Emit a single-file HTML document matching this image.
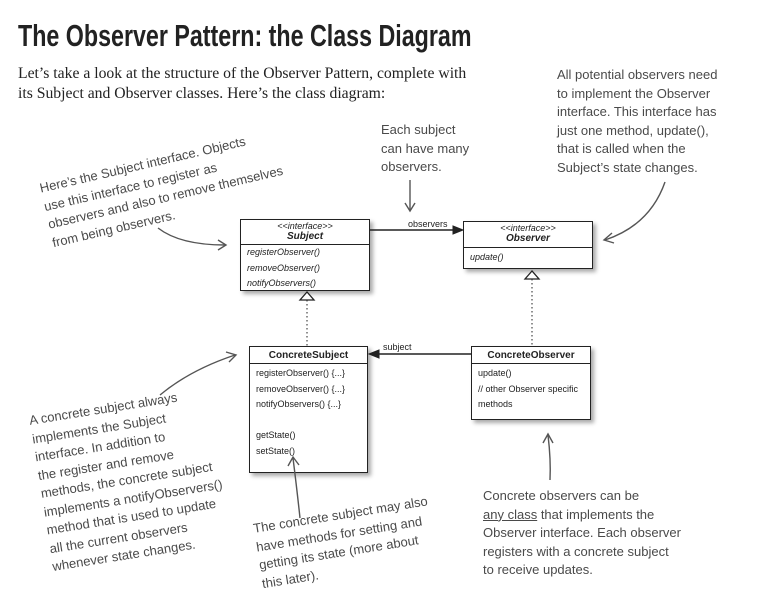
<!DOCTYPE html>
<html><head><meta charset="utf-8"><style>
body{margin:0;width:758px;height:590px;background:#fff;position:relative;overflow:hidden;font-family:"Liberation Sans",sans-serif}
.t{position:absolute;left:18px;top:18px;font:bold 31px "Liberation Sans",sans-serif;color:#222;letter-spacing:0px;transform:scaleX(0.75);transform-origin:left;white-space:nowrap}
.intro{position:absolute;left:18px;top:64px;font:15.7px/20px "Liberation Serif",serif;color:#222}
.h{position:absolute;font:13px/18.5px "Liberation Sans",sans-serif;color:#4a4a4a;white-space:pre;transform-origin:left top}
.box{position:absolute;border:1.5px solid #222;background:#fff;box-shadow:3px 3px 4px #aaa;font-size:9px;color:#222}
.hd{border-bottom:1.5px solid #222;text-align:center}
.m{padding-left:6px;line-height:15.5px}
i{font-style:italic}
</style></head><body>
<div class="t">The Observer Pattern: the Class Diagram</div>
<div class="intro">Let’s take a look at the structure of the Observer Pattern, complete with<br>its Subject and Observer classes. Here’s the class diagram:</div>

<div class="h" style="left:557px;top:66px">All potential observers need
to implement the Observer
interface. This interface has
just one method, update(),
that is called when the
Subject’s state changes.</div>
<div class="h" style="left:381px;top:121px">Each subject
can have many
observers.</div>
<div class="h" style="left:38px;top:180px;transform:rotate(-13deg)">Here’s the Subject interface. Objects
use this interface to register as
observers and also to remove themselves
from being observers.</div>
<div class="h" style="left:28px;top:412px;transform:rotate(-9deg)">A concrete subject always
implements the Subject
interface. In addition to
the register and remove
methods, the concrete subject
implements a notifyObservers()
method that is used to update
all the current observers
whenever state changes.</div>
<div class="h" style="left:252px;top:520px;transform:rotate(-9deg)">The concrete subject may also
have methods for setting and
getting its state (more about
this later).</div>
<div class="h" style="left:483px;top:487px">Concrete observers can be
<u>any class</u> that implements the
Observer interface. Each observer
registers with a concrete subject
to receive updates.</div>

<div class="box" style="left:240px;top:219px;width:128px;height:70px">
<div class="hd" style="height:23px;line-height:10px;padding-top:1px"><i>&lt;&lt;interface&gt;&gt;</i><br><b><i style="font-size:10px">Subject</i></b></div>
<div class="m"><i>registerObserver()<br>removeObserver()<br>notifyObservers()</i></div></div>
<div class="box" style="left:463px;top:221px;width:128px;height:46px">
<div class="hd" style="height:24px;line-height:10px;padding-top:1px"><i>&lt;&lt;interface&gt;&gt;</i><br><b><i style="font-size:10px">Observer</i></b></div>
<div class="m" style="padding-top:2px"><i>update()</i></div></div>
<div class="box" style="left:249px;top:346px;width:117px;height:125px">
<div class="hd" style="height:16px;line-height:16px"><b style="font-size:10px">ConcreteSubject</b></div>
<div class="m" style="padding-top:2px">registerObserver() {...}<br>removeObserver() {...}<br>notifyObservers() {...}<br><br>getState()<br>setState()</div></div>
<div class="box" style="left:471px;top:346px;width:118px;height:72px">
<div class="hd" style="height:16px;line-height:16px"><b style="font-size:10px">ConcreteObserver</b></div>
<div class="m" style="padding-top:2px">update()<br>// other Observer specific<br>methods</div></div>

<svg width="758" height="590" style="position:absolute;left:0;top:0" fill="none" stroke="#222">
<line x1="370" y1="230" x2="455" y2="230" stroke-width="1.5"/><polygon points="463,230 453,226 453,234" fill="#222"/>
<text x="408" y="227" font-size="9" fill="#222" stroke="none" font-family="Liberation Sans">observers</text>
<line x1="471" y1="354" x2="378" y2="354" stroke-width="1.5"/><polygon points="369,354 379,350 379,358" fill="#222"/>
<text x="383" y="350" font-size="9" fill="#222" stroke="none" font-family="Liberation Sans">subject</text>
<line x1="307" y1="300" x2="307" y2="346" stroke-dasharray="1.5,2.5"/><polygon points="307,292 300,300 314,300" fill="#fff" stroke-width="1.3"/>
<line x1="532" y1="279" x2="532" y2="346" stroke-dasharray="1.5,2.5"/><polygon points="532,271 525,279 539,279" fill="#fff" stroke-width="1.3"/>
<g stroke="#555" stroke-width="1.4">
<path d="M158,228 Q180,245 225,245"/><path d="M218,240 L226,245 L218,250"/>
<path d="M410,180 L410,210"/><path d="M405,203 L410,211 L415,203"/>
<path d="M665,182 Q650,225 605,240"/><path d="M612,233 L604,240 L614,243"/>
<path d="M160,395 Q190,370 235,355"/><path d="M226,352 L236,355 L229,362"/>
<path d="M300,518 Q297,490 293,458"/><path d="M288,466 L293,457 L299,465"/>
<path d="M550,480 Q551,460 548,435"/><path d="M543,443 L548,434 L553,443"/>
</g></svg>
</body></html>
